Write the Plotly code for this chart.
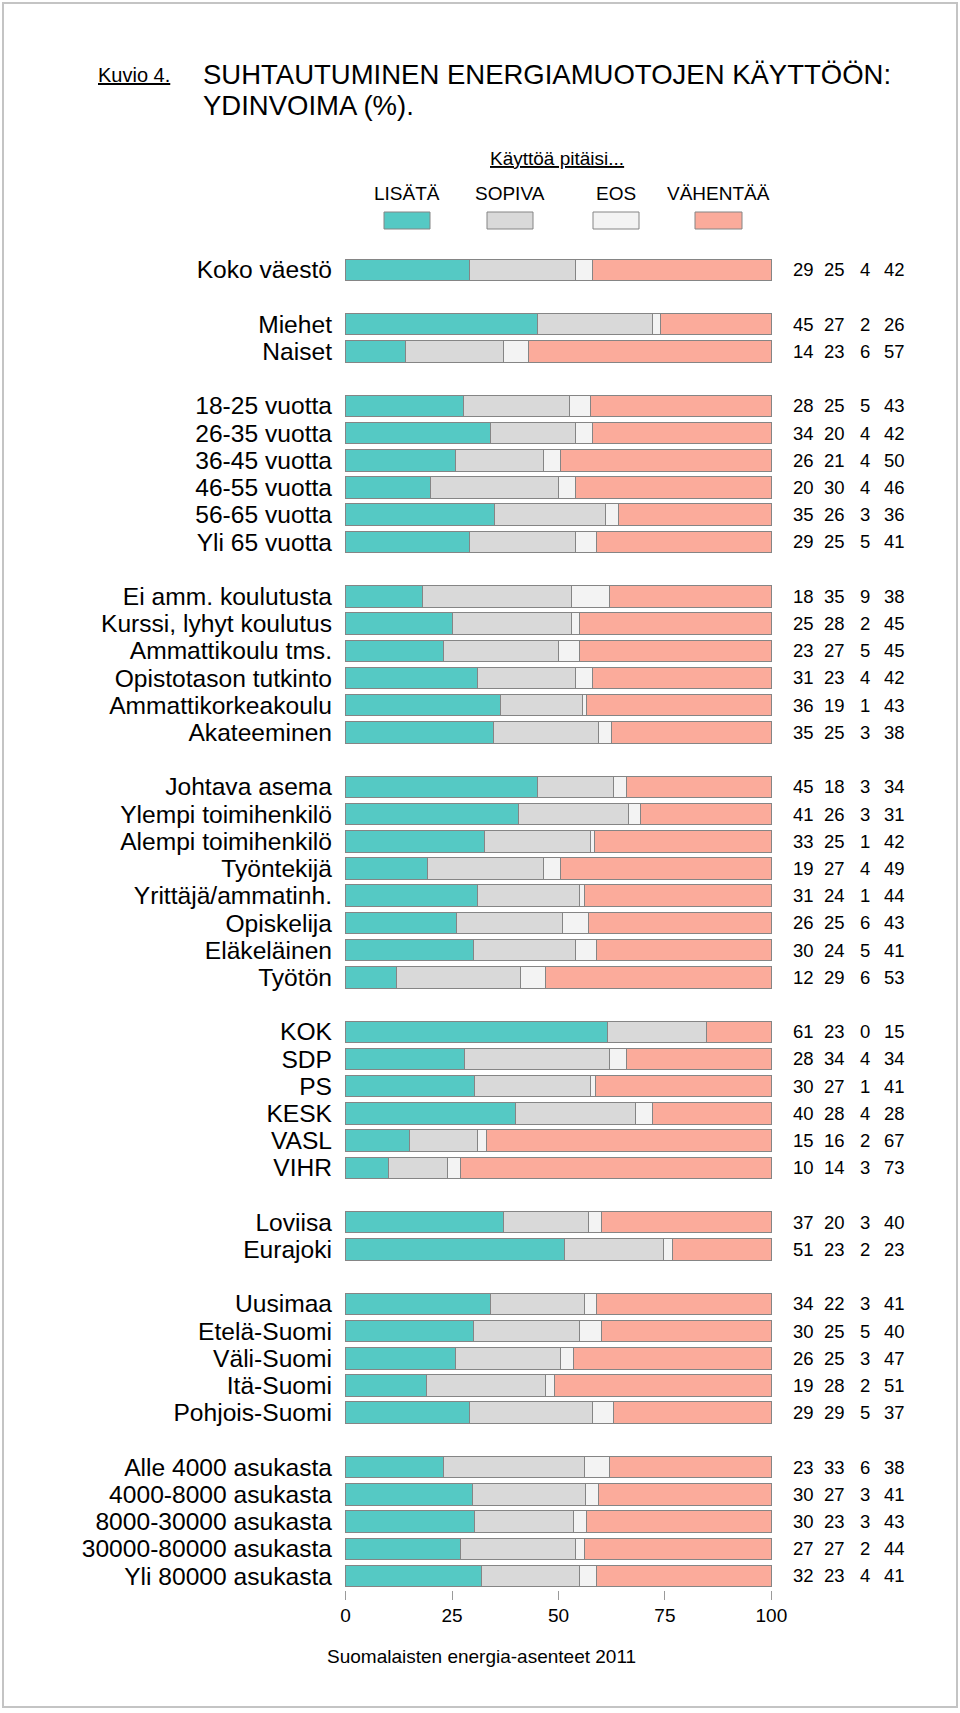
import plotly.graph_objects as go

# ---------------- data ----------------
group_sizes = [1, 2, 6, 6, 8, 6, 2, 5, 5]
categories = [
    "Koko väestö",
    "Miehet", "Naiset",
    "18-25 vuotta", "26-35 vuotta", "36-45 vuotta", "46-55 vuotta", "56-65 vuotta", "Yli 65 vuotta",
    "Ei amm. koulutusta", "Kurssi, lyhyt koulutus", "Ammattikoulu tms.", "Opistotason tutkinto",
    "Ammattikorkeakoulu", "Akateeminen",
    "Johtava asema", "Ylempi toimihenkilö", "Alempi toimihenkilö", "Työntekijä",
    "Yrittäjä/ammatinh.", "Opiskelija", "Eläkeläinen", "Työtön",
    "KOK", "SDP", "PS", "KESK", "VASL", "VIHR",
    "Loviisa", "Eurajoki",
    "Uusimaa", "Etelä-Suomi", "Väli-Suomi", "Itä-Suomi", "Pohjois-Suomi",
    "Alle 4000 asukasta", "4000-8000 asukasta", "8000-30000 asukasta", "30000-80000 asukasta",
    "Yli 80000 asukasta",
]
lisata = [29, 45, 14, 28, 34, 26, 20, 35, 29, 18, 25, 23, 31, 36, 35, 45, 41, 33, 19, 31, 26, 30, 12,
          61, 28, 30, 40, 15, 10, 37, 51, 34, 30, 26, 19, 29, 23, 30, 30, 27, 32]
sopiva = [25, 27, 23, 25, 20, 21, 30, 26, 25, 35, 28, 27, 23, 19, 25, 18, 26, 25, 27, 24, 25, 24, 29,
          23, 34, 27, 28, 16, 14, 20, 23, 22, 25, 25, 28, 29, 33, 27, 23, 27, 23]
eos = [4, 2, 6, 5, 4, 4, 4, 3, 5, 9, 2, 5, 4, 1, 3, 3, 3, 1, 4, 1, 6, 5, 6,
       0, 4, 1, 4, 2, 3, 3, 2, 3, 5, 3, 2, 5, 6, 3, 3, 2, 4]
vahentaa = [42, 26, 57, 43, 42, 50, 46, 36, 41, 38, 45, 45, 42, 43, 38, 34, 31, 42, 49, 44, 43, 41, 53,
            15, 34, 41, 28, 67, 73, 40, 23, 41, 40, 47, 51, 37, 38, 41, 43, 44, 41]
series_names = ["LISÄTÄ", "SOPIVA", "EOS", "VÄHENTÄÄ"]
x_ticks = [0, 25, 50, 75, 100]

# ---------------- styling ----------------
W, H = 960, 1713
FONT = "Liberation Sans, Arial, sans-serif"
colors = ["#55C9C4", "#D9D9D9", "#F3F3F3", "#FBAB9B"]
outline = "#858585"


def px(x):
    return x / W


def py(y):
    return 1 - y / H


# row positions with a blank row between groups
pos = []
r = 0
for gi, n in enumerate(group_sizes):
    for _ in range(n):
        pos.append(r)
        r += 1
    r += 1
n_rows = pos[-1] + 1

series = [lisata, sopiva, eos, vahentaa]
totals = [sum(s[i] for s in series) for i in range(len(categories))]

fig = go.Figure()
for name, vals, col in zip(series_names, series, colors):
    fig.add_trace(go.Bar(
        y=pos, x=[v * 100.0 / t for v, t in zip(vals, totals)],
        orientation="h", name=name, width=0.79,
        marker=dict(color=col, line=dict(color=outline, width=1)),
        showlegend=False, hoverinfo="skip",
    ))

row_top, row_bot = 256.2, 1589.6
fig.update_layout(
    width=W, height=H, barmode="stack",
    margin=dict(l=0, r=0, t=0, b=0, autoexpand=False),
    paper_bgcolor="white", plot_bgcolor="white",
    font=dict(family=FONT, color="black"),
    xaxis=dict(domain=[px(345), px(772)], range=[-0.15, 100.15], automargin=False,
               tickvals=x_ticks, ticktext=[str(t) for t in x_ticks],
               ticks="outside", ticklen=9, tickcolor="#9A9A9A", tickwidth=1,
               showgrid=False, zeroline=False, showline=False,
               tickfont=dict(size=19, family=FONT, color="black")),
    yaxis=dict(domain=[py(row_bot), py(row_top)], range=[n_rows - 0.5, -0.5], automargin=False,
               tickvals=pos, ticktext=categories, ticks="",
               ticklabelstandoff=12,
               showgrid=False, zeroline=False, showline=False,
               tickfont=dict(size=24.6, family=FONT, color="black")),
)

ann = []
num_x = [803, 834, 865, 894]
for i, p in enumerate(pos):
    for s, xx in zip(series, num_x):
        ann.append(dict(x=px(xx), y=p, xref="paper", yref="y", text=str(s[i]),
                        showarrow=False, xanchor="center", yanchor="middle",
                        font=dict(size=18.5, family=FONT, color="black")))

# titles
ann.append(dict(x=px(96), y=py(75), xref="paper", yref="paper", text="<u>Kuvio 4.</u>",
                showarrow=False, xanchor="left", yanchor="middle",
                font=dict(size=20, family=FONT, color="black")))
ann.append(dict(x=px(201), y=py(74), xref="paper", yref="paper",
                text="SUHTAUTUMINEN ENERGIAMUOTOJEN KÄYTTÖÖN:",
                showarrow=False, xanchor="left", yanchor="middle",
                font=dict(size=27.5, family=FONT, color="black")))
ann.append(dict(x=px(201), y=py(105), xref="paper", yref="paper",
                text="YDINVOIMA (%).",
                showarrow=False, xanchor="left", yanchor="middle",
                font=dict(size=27.5, family=FONT, color="black")))
ann.append(dict(x=px(557), y=py(158), xref="paper", yref="paper",
                text="<u>Käyttöä pitäisi...</u>",
                showarrow=False, xanchor="center", yanchor="middle",
                font=dict(size=19, family=FONT, color="black")))
ann.append(dict(x=px(481), y=py(1656), xref="paper", yref="paper",
                text="Suomalaisten energia-asenteet 2011",
                showarrow=False, xanchor="center", yanchor="middle",
                font=dict(size=19, family=FONT, color="black")))

# legend
shapes = []
leg_x = [(384, 430), (487, 533), (593, 639), (695, 742)]
for (x0, x1), name, col in zip(leg_x, series_names, colors):
    shapes.append(dict(type="rect", xref="paper", yref="paper",
                       x0=px(x0), x1=px(x1), y0=py(229), y1=py(212),
                       fillcolor=col, line=dict(color=outline, width=1)))
    ann.append(dict(x=px((x0 + x1) / 2), y=py(193), xref="paper", yref="paper",
                    text=name, showarrow=False, xanchor="center", yanchor="middle",
                    font=dict(size=19, family=FONT, color="black")))

# frame
shapes.append(dict(type="rect", xref="paper", yref="paper",
                   x0=px(3), x1=px(957), y0=py(1707), y1=py(3),
                   line=dict(color="#C4C4C4", width=2), fillcolor="rgba(0,0,0,0)"))

fig.update_layout(annotations=ann, shapes=shapes)
fig.write_html("out.html")
